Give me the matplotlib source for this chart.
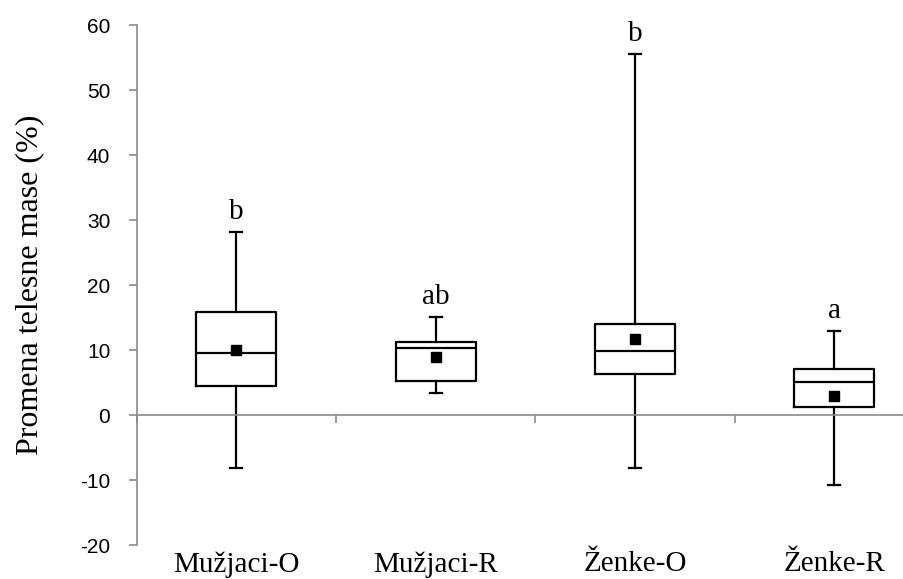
import matplotlib
matplotlib.use("Agg")
import matplotlib.pyplot as plt

plt.rcParams["axes.unicode_minus"] = False

# Skupine i statistike (procenat promene telesne mase)
groups = ["Mužjaci-O", "Mužjaci-R", "Ženke-O", "Ženke-R"]
whisk_lo = [-8.2, 3.4, -8.2, -10.7]
q1 = [4.4, 5.3, 6.3, 1.3]
medians = [9.6, 10.3, 9.9, 5.1]
q3 = [15.8, 11.2, 14.0, 7.1]
whisk_hi = [28.1, 15.1, 55.6, 13.0]
means = [10.0, 9.0, 11.7, 2.9]
letters = ["b", "ab", "b", "a"]

serif = "Liberation Serif"
gray = "#8a8a8a"

stats = []
for i in range(len(groups)):
    stats.append(dict(label=groups[i], whislo=whisk_lo[i], q1=q1[i], med=medians[i],
                      q3=q3[i], whishi=whisk_hi[i], mean=means[i]))

fig = plt.figure(figsize=(9.04, 5.79), dpi=100)
ax = fig.add_axes([0.1512, 0.0587, 0.8819, 0.8981])

pos = [i + 0.5 for i in range(len(groups))]
line = dict(color="black", linewidth=1.6)
ax.bxp(stats, positions=pos, widths=0.4, showmeans=True, showfliers=False,
       patch_artist=False, boxprops=line, whiskerprops=line, capprops=line,
       medianprops=line, capwidths=0.06,
       meanprops=dict(marker="s", markerfacecolor="black", markeredgecolor="black",
                      markersize=7.5))

for p, top, lab in zip(pos, whisk_hi, letters):
    ax.text(p, top + 2.0, lab, ha="center", va="baseline", fontsize=21,
            family=serif, color="black")

ax.set_xlim(0, len(groups))
ax.set_ylim(-20, 60)
ax.set_yticks(range(-20, 61, 10))

# osa x na nuli, crtice izmedju kategorija
ax.spines["bottom"].set_position(("data", 0))
ax.spines["bottom"].set_color(gray)
ax.spines["left"].set_color(gray)
ax.spines["bottom"].set_linewidth(1.2)
ax.spines["left"].set_linewidth(1.2)
ax.spines["top"].set_visible(False)
ax.spines["right"].set_visible(False)
ax.set_xticks(range(len(groups) + 1))
ax.set_xticklabels([])
ax.tick_params(axis="x", direction="out", length=6, width=1.2, color=gray)
ax.tick_params(axis="y", direction="out", length=6, width=1.2, color=gray, pad=13)
for t in ax.get_yticklabels():
    t.set_family("Liberation Sans")
    t.set_fontsize(15)

sec = ax.secondary_xaxis(0.0)
sec.set_xticks(pos)
sec.set_xticklabels(groups, family=serif, fontsize=21)
sec.tick_params(length=0, pad=4.5)
sec.spines["bottom"].set_visible(False)

ax.set_ylabel("Promena telesne mase (%)", family=serif, fontsize=23)
ax.yaxis.set_label_coords(-0.116, 0.5)

fig.savefig("out.png", dpi=100)
